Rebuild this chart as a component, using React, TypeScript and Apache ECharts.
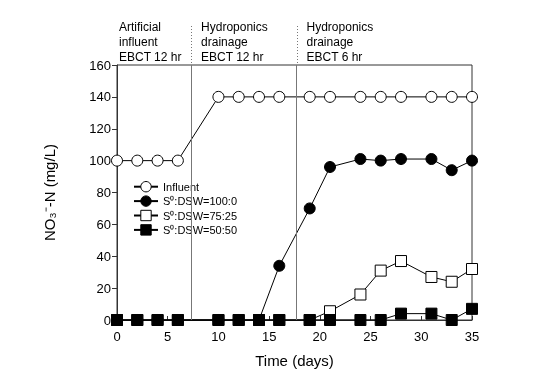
import React, { useEffect, useRef } from "react";
import * as echarts from "echarts";

const days = [0, 2, 4, 6, 10, 12, 14, 16, 19, 21, 24, 26, 28, 31, 33, 35];
const influent = [100, 100, 100, 100, 140, 140, 140, 140, 140, 140, 140, 140, 140, 140, 140, 140];
const dsw100 = [0, 0, 0, 0, 0, 0, 0, 34, 70, 96, 101, 100, 101, 101, 94, 100];
const dsw75 = [0, 0, 0, 0, 0, 0, 0, 0, 0, 5.5, 16, 31, 37, 27, 24, 32];
const dsw50 = [0, 0, 0, 0, 0, 0, 0, 0, 0, 0, 0, 0, 4, 4, 0, 7];
const phaseBounds = [7.3, 17.7];
const phaseLabels = [
  "Artificial\ninfluent\nEBCT 12 hr",
  "Hydroponics\ndrainage\nEBCT 12 hr",
  "Hydroponics\ndrainage\nEBCT 6 hr",
];
const phaseStarts = [0, 7.3, 17.7];
const seriesNames = ["Influent", "S⁰:DSW=100:0", "S⁰:DSW=75:25", "S⁰:DSW=50:50"];

const FONT = "'Liberation Sans', Arial, sans-serif";

export default function App() {
  const ref = useRef<HTMLDivElement>(null);
  useEffect(() => {
    if (!ref.current) return;
    const chart = echarts.init(ref.current, undefined, { renderer: "svg" });
    const pts = (vals: number[]) => days.map((d, i) => [d, vals[i]]);
    const mk = (name: string, vals: number[], symbol: string, fill: string, extra: any = {}) => ({
      name,
      type: "line",
      data: pts(vals),
      symbol,
      symbolSize: 11,
      lineStyle: { color: "#000", width: 1 },
      itemStyle: { color: fill, borderColor: "#000", borderWidth: 1 },
      clip: false,
      ...extra,
    });
    chart.setOption({
      animation: false,
      textStyle: { fontFamily: FONT },
      grid: {
        left: 117,
        right: 62,
        top: 65,
        bottom: 64,
        show: true,
        borderColor: "#333",
        borderWidth: 1,
        backgroundColor: "transparent",
      },
      legend: {
        orient: "vertical",
        left: 129,
        top: 177,
        itemWidth: 24,
        itemHeight: 13,
        itemGap: 3,
        itemStyle: { borderWidth: 1 },
        padding: [4, 6, 4, 4],
        backgroundColor: "#fff",
        textStyle: { fontSize: 11, color: "#000", fontFamily: FONT },
        data: seriesNames,
      },
      xAxis: {
        type: "value",
        min: 0,
        max: 35,
        interval: 5,
        name: "Time (days)",
        nameLocation: "middle",
        nameGap: 33,
        nameTextStyle: { fontSize: 15, color: "#000", fontFamily: FONT },
        axisLine: { lineStyle: { color: "#333" } },
        axisTick: { inside: true, length: 4, lineStyle: { color: "#333" } },
        axisLabel: { fontSize: 13, color: "#000", margin: 10, fontFamily: FONT },
        splitLine: { show: false },
      },
      yAxis: {
        type: "value",
        min: 0,
        max: 160,
        interval: 20,
        name: "NO₃⁻-N (mg/L)",
        nameLocation: "middle",
        nameGap: 60,
        nameRotate: 90,
        nameTextStyle: { fontSize: 15, color: "#000", fontFamily: FONT },
        axisLine: { show: true, lineStyle: { color: "#333" } },
        axisTick: { show: true, inside: false, length: 5, lineStyle: { color: "#333" } },
        axisLabel: { fontSize: 13, color: "#000", margin: 6, fontFamily: FONT },
        splitLine: { show: false },
      },
      series: [
        mk(seriesNames[0], influent, "circle", "#fff", {
          markLine: {
            silent: true,
            symbol: "none",
            label: { show: false },
            lineStyle: { color: "#777", width: 1, type: "solid" },
            data: phaseBounds.map((b) => ({ xAxis: b })),
          },
        }),
        mk(seriesNames[1], dsw100, "circle", "#000"),
        mk(seriesNames[2], dsw75, "rect", "#fff"),
        mk(seriesNames[3], dsw50, "rect", "#000"),
      ],
    });

    const yTop = chart.convertToPixel({ yAxisIndex: 0 }, 160) as number;
    const graphics: any[] = [];
    phaseBounds.forEach((b) => {
      const x = Math.round(chart.convertToPixel({ xAxisIndex: 0 }, b) as number) + 0.5;
      graphics.push({
        type: "line",
        shape: { x1: x, y1: 26, x2: x, y2: yTop },
        style: { stroke: "#777", lineWidth: 1, lineDash: [1, 2] },
        silent: true,
      });
    });
    phaseStarts.forEach((s, i) => {
      const x = (chart.convertToPixel({ xAxisIndex: 0 }, s) as number) + (i === 0 ? 2 : 10);
      graphics.push({
        type: "text",
        x,
        y: 19,
        style: {
          text: phaseLabels[i],
          fontSize: 12,
          lineHeight: 15,
          fill: "#000",
          fontFamily: FONT,
          textVerticalAlign: "top",
        },
        silent: true,
      });
    });
    chart.setOption({ graphic: graphics });

    return () => chart.dispose();
  }, []);
  return <div ref={ref} style={{ position: "fixed", left: 0, top: 0, width: 534, height: 384 }} />;
}
